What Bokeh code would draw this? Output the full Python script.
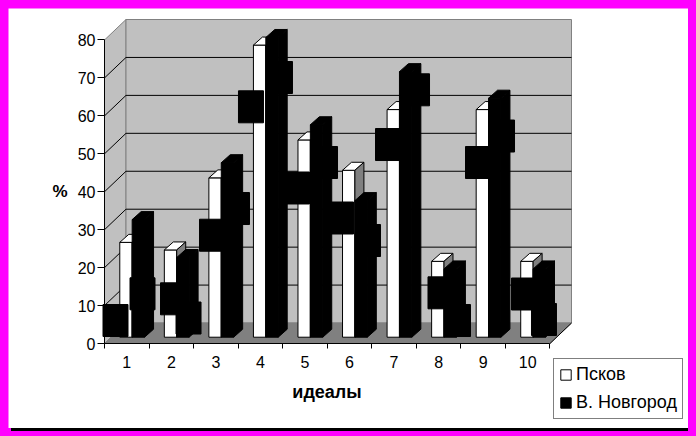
from bokeh.embed import file_html
from bokeh.resources import INLINE
from bokeh.plotting import figure
from bokeh.models import Legend, LegendItem, FixedTicker, LinearAxis

categories = ["1", "2", "3", "4", "5", "6", "7", "8", "9", "10"]
pskov = [25, 23, 42, 77, 52, 44, 60, 20, 60, 20]
novgorod = [31, 21, 46, 79, 56, 36, 70, 18, 63, 18]
y_ticks = [0, 10, 20, 30, 40, 50, 60, 70, 80]
series_names = ["Псков", "В. Новгород"]
x_title = "идеалы"
y_title = "%"

# data-label blocks (category axis, value axis)
pskov_label_x = [0.247, 1.538, 2.413, 3.288, 4.321, 5.309, 6.364, 7.542, 8.384, 9.416]
pskov_label_y = [6.06, 11.78, 28.54, 62.39, 40.99, 33.08, 52.45, 13.36, 47.71, 13.05]
novgorod_label_x = [0.853, 1.886, 2.974, 3.939, 4.950, 5.915, 7.015, 7.935, 8.923, 9.865]
novgorod_label_y = [13.10, 6.72, 35.58, 70.11, 47.71, 27.15, 66.87, 6.06, 54.69, 6.33]

FONT = "Liberation Sans"
WALL_DX, WALL_DY = 0.4826, 5.4
BAR_DX, BAR_DY = 0.202, 2.11
BAR_W = 0.278
BAR_GAP = 0.343
BASE = 1.66
N = len(categories)

p = figure(width=680, height=420, output_backend="svg", toolbar_location=None,
           x_range=(-2.155, 13.109), y_range=(-22.40, 88.30),
           min_border=0, min_border_left=0, min_border_right=0,
           min_border_top=0, min_border_bottom=0,
           x_axis_type=None, y_axis_type=None)
p.grid.visible = False
p.outline_line_color = None
p.background_fill_color = "white"
p.border_fill_color = "white"
p.styles = {"box-shadow": "-2px -2px 0 #000, 3px 3px 0 #000"}

top = y_ticks[-1]
# walls and floor
p.patch([0, WALL_DX, WALL_DX, 0], [0, WALL_DY, top + WALL_DY, top],
        fill_color="#c0c0c0", line_color="#808080")
p.patch([WALL_DX, N + WALL_DX, N + WALL_DX, WALL_DX],
        [WALL_DY, WALL_DY, top + WALL_DY, top + WALL_DY],
        fill_color="#c0c0c0", line_color="#808080")
p.patch([0, N, N + WALL_DX, WALL_DX], [0, 0, WALL_DY, WALL_DY],
        fill_color="#808080", line_color="#808080")
p.segment([N], [0], [N + WALL_DX], [WALL_DY], line_color="black", line_width=1)
# gridlines
grid = y_ticks[1:-1]
p.segment([WALL_DX] * len(grid), [v + WALL_DY for v in grid],
          [N + WALL_DX] * len(grid), [v + WALL_DY for v in grid],
          line_color="black", line_width=1)
p.segment([0] * len(grid), grid, [WALL_DX] * len(grid),
          [v + WALL_DY for v in grid], line_color="black", line_width=1)


def bars(values, shift, face, side):
    left = [i + BAR_GAP + shift for i in range(N)]
    right = [x + BAR_W for x in left]
    tops = [BASE + v for v in values]
    q = p.quad(left=left, right=right, bottom=[BASE] * N, top=tops,
               fill_color=face, line_color="black")
    p.patches([[l, l + BAR_DX, r + BAR_DX, r] for l, r in zip(left, right)],
              [[t, t + BAR_DY, t + BAR_DY, t] for t in tops],
              fill_color=face, line_color="black")
    p.patches([[r, r + BAR_DX, r + BAR_DX, r] for r in right],
              [[BASE, BASE + BAR_DY, t + BAR_DY, t] for t in tops],
              fill_color=side, line_color="black")
    return q


r_pskov = bars(pskov, 0, "white", "#808080")
r_novgorod = bars(novgorod, BAR_W, "black", "black")

for lx, ly in ((pskov_label_x, pskov_label_y), (novgorod_label_x, novgorod_label_y)):
    p.rect(x=lx, y=ly, width=25, height=32, width_units="screen", height_units="screen",
           fill_color="black", line_color="black")

# axes
yaxis = LinearAxis(fixed_location=0, bounds=(0, top), axis_label=y_title)
yaxis.ticker = FixedTicker(ticks=y_ticks)
yaxis.major_tick_in = 0
yaxis.major_tick_out = 7
yaxis.minor_tick_line_color = None
yaxis.major_label_text_font = FONT
yaxis.major_label_text_font_size = "16px"
yaxis.major_label_text_color = "black"
yaxis.major_label_standoff = 2
yaxis.axis_label_text_font = FONT
yaxis.axis_label_text_font_size = "17px"
yaxis.axis_label_text_font_style = "bold"
yaxis.axis_label_text_color = "black"
yaxis.axis_label_orientation = "horizontal"
yaxis.axis_label_standoff = 7
p.add_layout(yaxis, "left")

centers = [i + 0.5 for i in range(N)]
xaxis = LinearAxis(fixed_location=0, bounds=(0, N), axis_label=x_title)
xaxis.ticker = FixedTicker(ticks=centers, minor_ticks=list(range(N + 1)))
xaxis.major_label_overrides = {c: t for c, t in zip(centers, categories)}
xaxis.major_tick_line_color = None
xaxis.major_tick_in = 0
xaxis.major_tick_out = 5
xaxis.minor_tick_in = 0
xaxis.minor_tick_out = 5
xaxis.major_label_text_font = FONT
xaxis.major_label_text_font_size = "16px"
xaxis.major_label_text_color = "black"
xaxis.major_label_standoff = 7
xaxis.axis_label_text_font = FONT
xaxis.axis_label_text_font_size = "18px"
xaxis.axis_label_text_font_style = "bold"
xaxis.axis_label_text_color = "black"
xaxis.axis_label_standoff = 11
p.add_layout(xaxis, "below")

legend = Legend(items=[LegendItem(label=series_names[0], renderers=[r_pskov]),
                       LegendItem(label=series_names[1], renderers=[r_novgorod])],
                location=(545, 9), orientation="vertical",
                glyph_width=13, glyph_height=13, label_standoff=4,
                padding=5, margin=0, spacing=7,
                label_text_font=FONT, label_text_font_size="18px", label_text_color="black",
                border_line_color="black", border_line_width=1,
                background_fill_color="white", background_fill_alpha=1)
p.add_layout(legend, "center")

CSS = "<style>html,body{background:#ff00ff;overflow:hidden}body{margin:8px}</style></head>"
open("out.html", "w").write(file_html(p, INLINE).replace("</head>", CSS, 1))
